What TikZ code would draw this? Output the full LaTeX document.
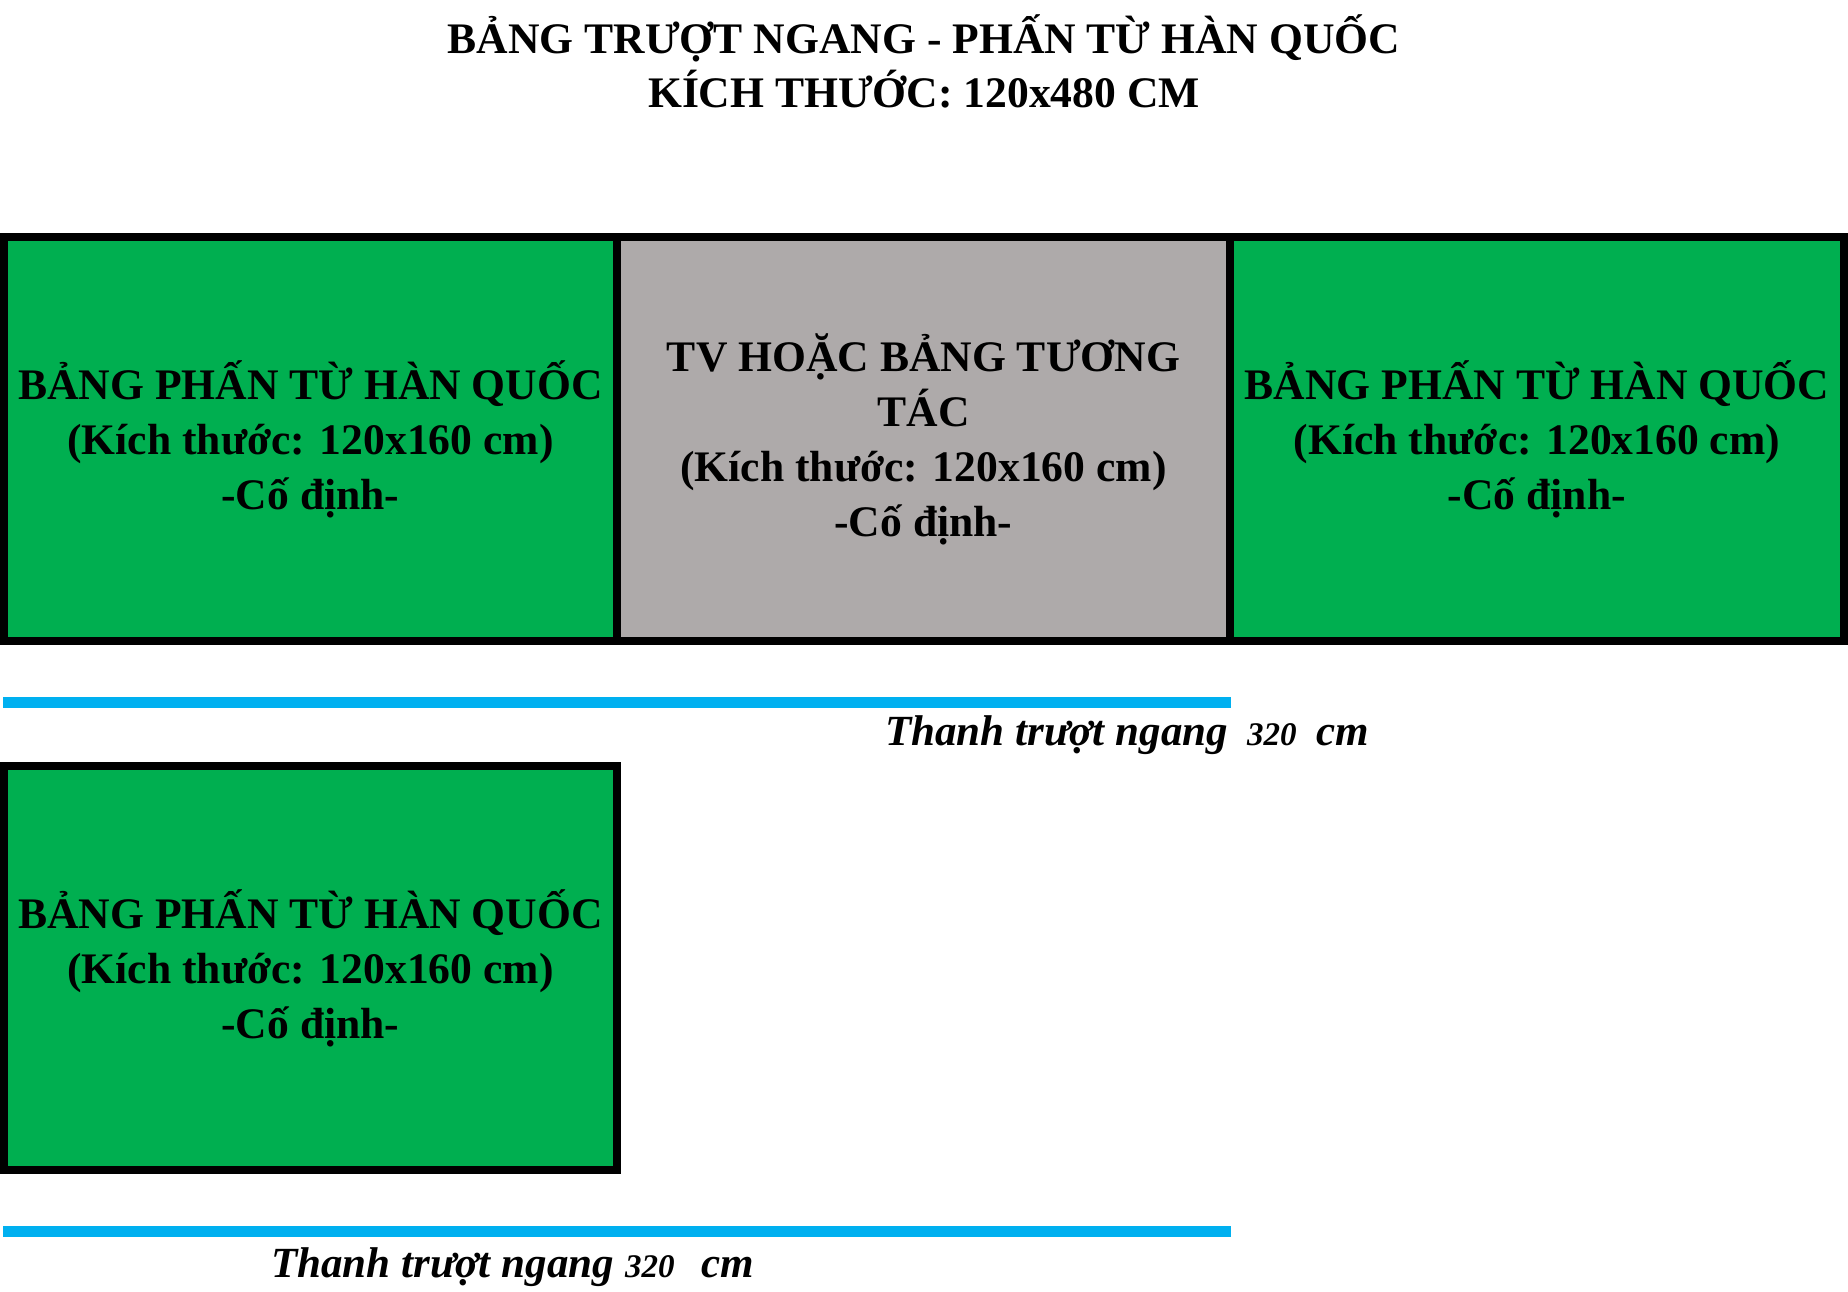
\documentclass[tikz,border=0pt]{standalone}
\usepackage{fontspec}
\setmainfont{Liberation Serif}
\definecolor{boardgreen}{HTML}{00AF50}
\definecolor{tvgray}{HTML}{AEAAAA}
\definecolor{railblue}{HTML}{00B0F0}
\tikzset{
  panel/.style={draw=black, line width=7.5pt, inner sep=0pt, outer sep=0pt,
    align=center, font=\bfseries\fontsize{43.6}{55}\selectfont},
  greenpanel/.style={panel, fill=boardgreen},
  graypanel/.style={panel, fill=tvgray},
  rail/.style={draw=railblue, line width=10.5pt},
  titletext/.style={inner sep=0pt, anchor=base, font=\bfseries\fontsize{43.6}{54}\selectfont},
  railtext/.style={inner sep=0pt, anchor=base west, font=\bfseries\itshape\fontsize{43}{50}\selectfont}
}
\newcommand{\railnum}[1]{{\fontsize{33}{40}\selectfont #1}}
\begin{document}
\begin{tikzpicture}[x=1pt,y=-1pt]
\useasboundingbox (0,0) rectangle (1848,1292);
% title
\node[titletext] (t1) at (924,54) {BẢNG TRƯỢT NGANG - PHẤN TỪ HÀN QUỐC};
\node[titletext] (t2) at (924,108) {KÍCH THƯỚC: 120x480 CM};
% top strip
\node[greenpanel, minimum width=613pt, minimum height=404pt] (p1) at (310.5,439)
  {BẢNG PHẤN TỪ HÀN QUỐC\\(Kích thước: 120x160 cm)\\-Cố định-};
\node[graypanel, minimum width=613pt, minimum height=404pt] (p2) at (923.5,439)
  {TV HOẶC BẢNG TƯƠNG\\TÁC\\(Kích thước: 120x160 cm)\\-Cố định-};
\node[greenpanel, minimum width=614pt, minimum height=404pt] (p3) at (1537,439)
  {BẢNG PHẤN TỪ HÀN QUỐC\\(Kích thước: 120x160 cm)\\-Cố định-};
% rail 1
\coordinate (r1a) at (3,702.5);
\coordinate (r1b) at (1231,702.5);
\draw[rail] (r1a) -- (r1b);
\node[railtext] (l1) at (885,745) {Thanh trượt ngang\hspace{19pt}\railnum{320}\hspace{20pt}cm};
% lower panel
\node[greenpanel, minimum width=613pt, minimum height=404pt] (p4) at (310.5,968)
  {BẢNG PHẤN TỪ HÀN QUỐC\\(Kích thước: 120x160 cm)\\-Cố định-};
% rail 2
\coordinate (r2a) at (3,1231.5);
\coordinate (r2b) at (1231,1231.5);
\draw[rail] (r2a) -- (r2b);
\node[railtext] (l2) at (271,1277) {Thanh trượt ngang\hspace{11pt}\railnum{320}\hspace{27pt}cm};
\end{tikzpicture}
\end{document}
